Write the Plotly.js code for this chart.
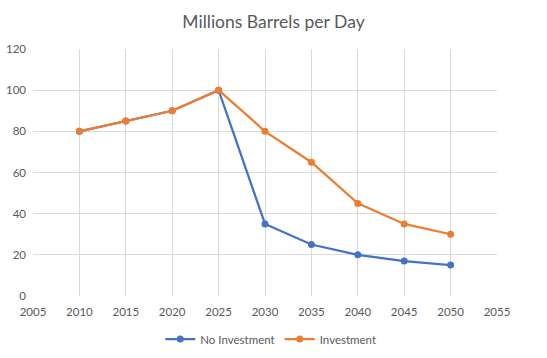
<!DOCTYPE html>
<html>
<head>
<meta charset="utf-8">
<script src="https://cdn.plot.ly/plotly-3.0.1.min.js"></script>
<style>html,body{margin:0;padding:0;background:#fff;}#chart{width:547px;height:358px;}</style>
</head>
<body>
<div id="chart"></div>
<script>
var years = [2010, 2015, 2020, 2025, 2030, 2035, 2040, 2045, 2050];
var noInvestment = [80, 85, 90, 100, 35, 25, 20, 17, 15];
var investment = [80, 85, 90, 100, 80, 65, 45, 35, 30];
var seriesNames = ["No Investment", "Investment"];

var font = "Lato, 'Open Sans', sans-serif";
var traces = [
  {x: years, y: noInvestment, name: seriesNames[0], type: "scatter", mode: "lines+markers",
   line: {color: "#4472C4", width: 2.25}, marker: {color: "#4472C4", size: 7}},
  {x: years, y: investment, name: seriesNames[1], type: "scatter", mode: "lines+markers",
   line: {color: "#ED7D31", width: 2.25}, marker: {color: "#ED7D31", size: 7}}
];
var layout = {
  width: 547, height: 358,
  margin: {l: 33, r: 50, t: 49, b: 62, autoexpand: false},
  paper_bgcolor: "#fff", plot_bgcolor: "#fff",
  font: {family: font, color: "#595959", size: 11.5},
  title: {text: "Millions Barrels per Day", font: {family: font, size: 17.5, color: "#595959"},
          x: 0.5, xanchor: "center", xref: "container", y: 0.94, yanchor: "middle"},
  xaxis: {range: [2005, 2055], dtick: 5, tick0: 2005, showgrid: true, gridcolor: "#d9d9d9",
          zeroline: false, showline: false, ticks: "", ticklabelstandoff: 7,
          tickfont: {size: 11.5, color: "#595959"}},
  yaxis: {range: [0, 120], dtick: 20, showgrid: true, gridcolor: "#d9d9d9",
          zeroline: false, showline: false, ticks: "", ticklabelstandoff: 6,
          tickfont: {size: 11.5, color: "#595959"}},
  showlegend: true,
  legend: {orientation: "h", x: 0.495, xanchor: "center", xref: "container",
           yref: "container", y: 0.053, yanchor: "middle",
           itemwidth: 30, font: {size: 11.5, color: "#595959"}}
};
Plotly.newPlot("chart", traces, layout, {displayModeBar: false, staticPlot: true});
</script>
</body>
</html>
